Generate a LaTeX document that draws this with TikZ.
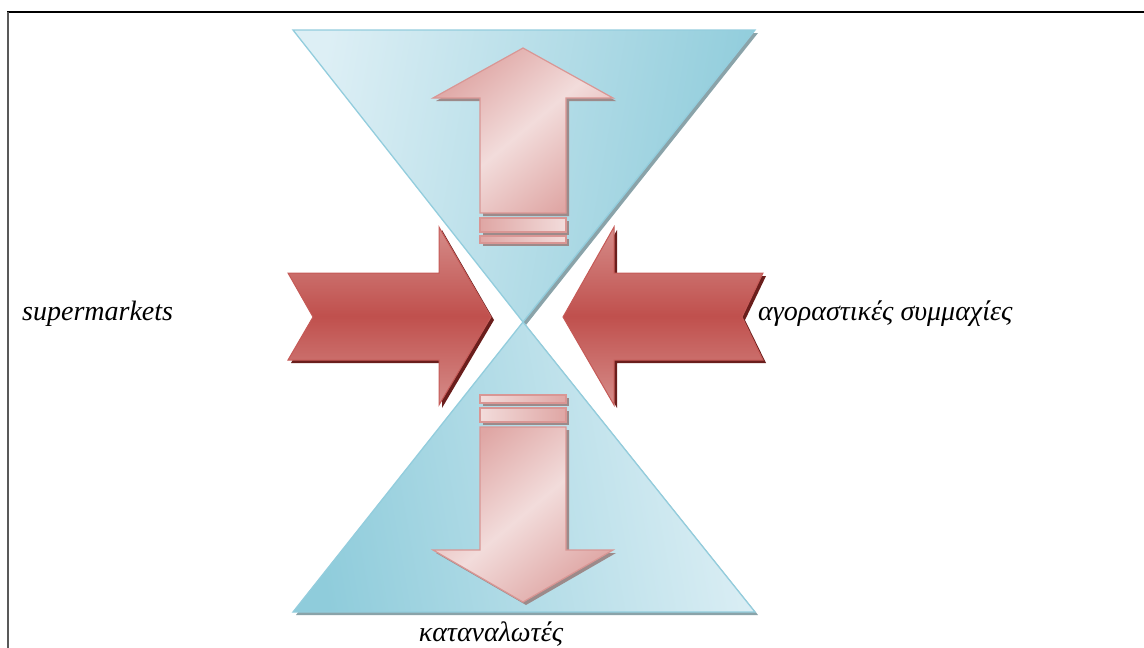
\documentclass[tikz,border=0pt]{standalone}
\usepackage{fontspec}
\setmainfont{Liberation Serif}
\definecolor{triL}{HTML}{DDEFF5}
\definecolor{triD}{HTML}{8FCCDB}
\definecolor{triS}{HTML}{93CDDD}
\definecolor{triSh}{HTML}{8AA3A9}
\definecolor{pinkL}{HTML}{F2DCDB}
\definecolor{pinkD}{HTML}{DFA6A4}
\definecolor{pinkS}{HTML}{D99694}
\definecolor{pinkSh}{HTML}{9C8A8A}
\definecolor{redM}{HTML}{C0504D}
\definecolor{redL}{HTML}{D58C89}
\definecolor{redS}{HTML}{C55A57}
\definecolor{redSh}{HTML}{6A1E1C}
\tikzset{
  tri/.style={draw=triS, line width=1.3pt},
  trish/.style={fill=triSh},
  pinkarrow/.style={draw=pinkS, line width=1.2pt},
  pinksh/.style={fill=pinkSh},
  redarrow/.style={draw=redS, line width=1pt, top color=redL, bottom color=redL, middle color=redM},
  redsh/.style={fill=redSh},
  lbl/.style={font=\fontsize{28}{34}\selectfont\itshape, inner sep=0pt}
}
\begin{document}
\begin{tikzpicture}[x=1pt,y=-1pt]
\useasboundingbox (0,0) rectangle (1144,648);
% frame
\draw[line width=2.5pt, black] (7,12) -- (1144,12);
\draw[line width=2pt, black!65] (7.5,12) -- (7.5,648);

% top triangle
\fill[trish] (296,33) -- (758,33) -- (526,325) -- cycle;
\shade[tri, shading=axis, left color=triL, right color=triD, shading angle=80] (293,30) -- (755,30) -- (523,322) -- cycle;
% bottom triangle
\fill[trish] (526,325) -- (758,615) -- (296,615) -- cycle;
\shade[tri, shading=axis, left color=triD, right color=triL, shading angle=100] (523,322) -- (755,612) -- (293,612) -- cycle;

% up arrow (shadow)
\begin{scope}[shift={(3,3)}]
\fill[pinksh] (523,48) -- (613,98) -- (566,98) -- (566,213) -- (480,213) -- (480,98) -- (433,98) -- cycle;
\fill[pinksh] (480,218) rectangle (566,232);
\fill[pinksh] (480,236) rectangle (566,243);
\end{scope}
\shade[pinkarrow, left color=pinkD, right color=pinkD, middle color=pinkL, shading angle=40] (523,48) -- (613,98) -- (566,98) -- (566,213) -- (480,213) -- (480,98) -- (433,98) -- cycle;
\shade[pinkarrow, left color=pinkD, right color=pinkL] (480,218) rectangle (566,232);
\shade[pinkarrow, left color=pinkD, right color=pinkL] (480,236) rectangle (566,243);

% down arrow (shadow)
\begin{scope}[shift={(3,3)}]
\fill[pinksh] (480,395) rectangle (566,403);
\fill[pinksh] (480,408) rectangle (566,422);
\fill[pinksh] (480,427) -- (566,427) -- (566,550) -- (613,550) -- (523,602) -- (433,550) -- (480,550) -- cycle;
\end{scope}
\shade[pinkarrow, left color=pinkL, right color=pinkD] (480,395) rectangle (566,403);
\shade[pinkarrow, left color=pinkL, right color=pinkD] (480,408) rectangle (566,422);
\shade[pinkarrow, left color=pinkD, right color=pinkD, middle color=pinkL, shading angle=40] (480,427) -- (566,427) -- (566,550) -- (613,550) -- (523,602) -- (433,550) -- (480,550) -- cycle;

% left red arrow
\fill[redsh] (291,276) -- (442,276) -- (442,230) -- (494,320) -- (442,408) -- (442,363) -- (291,363) -- (316,320) -- cycle;
\shade[redarrow] (288,273) -- (439,273) -- (439,227) -- (491,317) -- (439,405) -- (439,360) -- (288,360) -- (313,317) -- cycle;
% right red arrow
\fill[redsh] (766,276) -- (617,276) -- (617,230) -- (566,320) -- (617,408) -- (617,363) -- (766,363) -- (745,320) -- cycle;
\shade[redarrow] (763,273) -- (614,273) -- (614,227) -- (563,317) -- (614,405) -- (614,360) -- (763,360) -- (742,317) -- cycle;

% labels
\node[lbl, anchor=base west] (sup) at (22,320) {supermarkets};
\node[lbl, anchor=base west] (agor) at (758,320) {αγοραστικές συμμαχίες};
\node[lbl, anchor=base] (kat) at (491,641) {καταναλωτές};
\end{tikzpicture}
\end{document}
